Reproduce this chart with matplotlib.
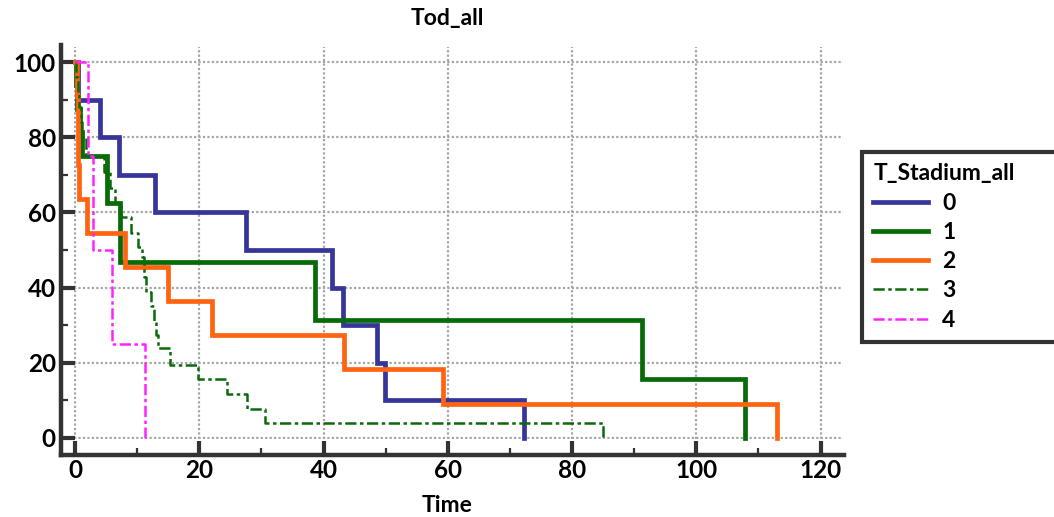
import matplotlib
matplotlib.use("Agg")
import matplotlib.pyplot as plt
from matplotlib.lines import Line2D

plt.rcParams['font.family'] = ['Lato', 'DejaVu Sans']
plt.rcParams['font.weight'] = 'bold'

title = "Tod_all"
xlabel = "Time"
legend_title = "T_Stadium_all"
group_labels = ["0", "1", "2", "3", "4"]

# group 0 (blue)
t0 = [0, 0.5, 4.0, 7.1, 12.9, 27.5, 41.3, 43.2, 48.6, 49.9, 72.2]
s0 = [100, 90, 80, 70, 60, 50, 40, 30, 20, 10, 0]
# group 1 (green solid)
t1 = [0, 0.1, 0.3, 0.8, 1.1, 5.2, 7.2, 38.7, 91.2, 107.9]
s1 = [100, 93.8, 87.5, 81.3, 75, 62.5, 46.9, 31.3, 15.6, 0]
# group 2 (orange)
t2 = [0, 0.3, 0.4, 0.5, 0.6, 1.9, 8.0, 15.0, 22.1, 43.3, 59.2, 113.0]
s2 = [100, 90.9, 81.8, 72.7, 63.6, 54.5, 45.5, 36.4, 27.3, 18.2, 9.1, 0]
# group 3 (green dash-dot)
t3 = [0, 0.2, 0.4, 0.6, 0.9, 1.2, 1.7, 4.6, 5.6, 6.4, 7.4, 9.0, 10.1, 10.7,
      11.1, 11.5, 12.3, 12.7, 13.1, 13.3, 15.3, 19.8, 24.4, 27.6, 30.5, 84.9]
s3 = [100, 96, 92, 88, 84, 80, 75, 70.7, 66.5, 62.5, 58.8, 54.5, 50.8, 48,
      42.8, 38.8, 35, 31, 27.4, 24, 19.4, 15.6, 11.7, 7.8, 3.9, 0]
# group 4 (magenta dash-dot)
t4 = [0, 2.1, 2.9, 5.9, 11.2]
s4 = [100, 75, 50, 25, 0]

times = [t0, t1, t2, t3, t4]
survs = [s0, s1, s2, s3, s4]
colors = ["#35359A", "#076B07", "#FF6412", "#0A6A0A", "#FF22FF"]
lws = [3.4, 3.4, 3.4, 1.8, 1.8]
dd = (0, (4.5, 1.4, 1.4, 1.4))
styles = ["-", "-", "-", dd, dd]

W, H = 1054, 517
fig = plt.figure(figsize=(W / 100, H / 100), dpi=100)
ax_l, ax_r, ax_t, ax_b = 74.4, 843, 47, 439
ax = fig.add_axes([ax_l / W, 1 - ax_b / H, (ax_r - ax_l) / W, (ax_b - ax_t) / H])

ax.set_xlim(-0.1, 123.6)
ax.set_ylim(-0.3, 104)

ax.grid(True, which='major', color='#A5A5A5', linestyle=(0, (1, 1)), linewidth=1.6)
ax.set_axisbelow(True)

handles = []
for t, s, c, lw, ls, lab in zip(times, survs, colors, lws, styles, group_labels):
    ax.step(t, s, where='post', color=c, linewidth=lw, linestyle=ls,
            solid_joinstyle='miter', clip_on=False, zorder=3)
    handles.append(Line2D([], [], color=c, linewidth=lw, linestyle=ls, label=lab))

for side in ['top', 'right']:
    ax.spines[side].set_visible(False)
ax.spines['left'].set_position(('outward', 9.5))
ax.spines['bottom'].set_position(('outward', 11.5))
ax.spines['left'].set_bounds(-4.6, 104.5)
ax.spines['bottom'].set_bounds(-2.3, 123.8)
for side in ['left', 'bottom']:
    ax.spines[side].set_linewidth(3.2)
    ax.spines[side].set_color('#333333')

ax.set_xticks([0, 20, 40, 60, 80, 100, 120])
ax.set_xticks([10, 30, 50, 70, 90, 110], minor=True)
ax.set_yticks([0, 20, 40, 60, 80, 100])
ax.set_yticks([10, 30, 50, 70, 90], minor=True)
ax.tick_params(which='major', direction='in', length=10, width=3, color='#333333',
               labelsize=17.5, pad=3)
ax.tick_params(which='minor', direction='in', length=5, width=1.6, color='#333333')
ax.tick_params(axis='y', which='major', pad=4)
for lbl in ax.get_xticklabels() + ax.get_yticklabels():
    lbl.set_fontweight('bold')

ax.set_title(title, fontsize=16.5, fontweight='bold', x=(447 - ax_l) / (ax_r - ax_l), pad=16)
ax.set_xlabel(xlabel, fontsize=16.5, fontweight='bold')
ax.xaxis.set_label_coords((447 - ax_l) / (ax_r - ax_l), -(495 - ax_b) / (ax_b - ax_t))

leg = fig.legend(handles=handles, title=legend_title, loc='upper left',
                 bbox_to_anchor=(862 / W, 1 - 345 / H, 222 / W, 193 / H),
                 mode='expand', fontsize=16.5, title_fontproperties={'weight': 'bold', 'size': 16.5},
                 handlelength=2.4, handletextpad=0.6, labelspacing=0.36,
                 borderpad=0.5, borderaxespad=0, alignment='left', fancybox=False, framealpha=1)
leg.get_frame().set_edgecolor('#333333')
leg.get_frame().set_linewidth(3)
for txt in leg.get_texts():
    txt.set_fontweight('bold')

fig.savefig("out.png", dpi=100)
